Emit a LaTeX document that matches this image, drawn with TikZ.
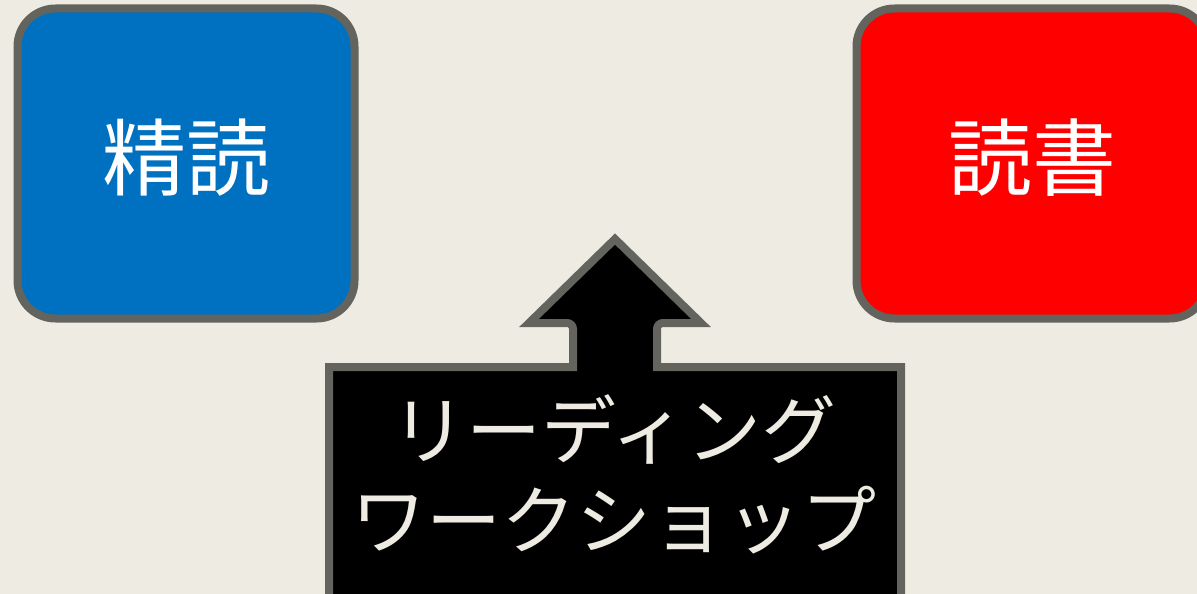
\documentclass[tikz,border=0pt]{standalone}
\usepackage{fontspec}
\newfontfamily\jp{Noto Sans CJK JP}
\definecolor{bgc}{HTML}{EEEBE3}
\definecolor{edge}{HTML}{64645E}
\definecolor{myblue}{HTML}{0070C0}
\definecolor{myred}{HTML}{FF0000}
\begin{document}
\begin{tikzpicture}[x=1pt,y=-1pt,
  box/.style={draw=edge,line width=8pt,rounded corners=38pt,minimum width=337pt,minimum height=310pt,inner sep=0pt},
  boxtext/.style={text=white,font=\jp\fontsize{84}{90}\selectfont,inner sep=0pt},
  callout/.style={draw=edge,fill=black,line width=8pt,line join=miter}]
\useasboundingbox (0,0) rectangle (1197,594);
\fill[bgc] (0,0) rectangle (1197,594);
\begin{scope}
\clip (0,0) rectangle (1197,594);
\node[box,fill=myblue] (seidoku) at (186,163.5) {};
\node[boxtext] (seidokut) at (186,158) {精読};
\node[box,fill=myred,minimum width=351pt] (dokusho) at (1032,163.5) {};
\node[boxtext] (dokushot) at (1032,158) {読書};
\draw[callout] (329,640) -- (329,367) -- (573,367) [rounded corners=6pt] -- (573,323) [sharp corners] -- (529,323) -- (615,239) -- (701,323) [rounded corners=6pt] -- (657,323) [sharp corners] -- (657,367) -- (901,367) -- (901,640);
\node[text=bgc,font=\jp\fontsize{75}{90}\selectfont,align=center] (ws) at (614,474) {リーディング\\ワークショップ};
\end{scope}
\end{tikzpicture}
\end{document}
